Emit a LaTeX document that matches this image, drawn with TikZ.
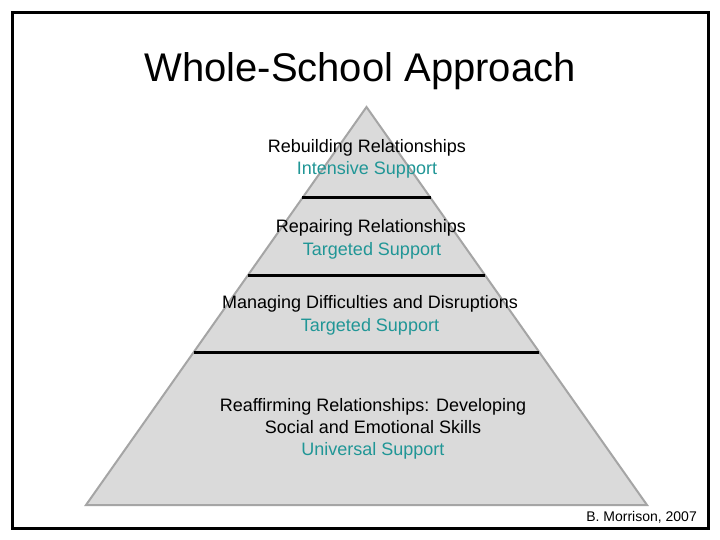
\documentclass[tikz,border=0pt]{standalone}
\usepackage{fontspec}
\setmainfont{Liberation Sans}
\definecolor{teal1}{RGB}{32,150,150}
\definecolor{pyrfill}{RGB}{218,218,218}
\definecolor{pyredge}{RGB}{165,165,165}
\begin{document}
\begin{tikzpicture}[x=1pt,y=-1pt,
  lbl/.style={anchor=base,inner sep=0pt,font=\fontsize{18}{21}\selectfont},
  sub/.style={lbl,text=teal1},
  sep/.style={line width=3pt,black}]
\useasboundingbox (0,0) rectangle (720,540);
\fill[white] (0,0) rectangle (720,540);
\draw[line width=3pt] (12.5,12.5) rectangle (708.5,528.5);
\node[anchor=base,inner sep=0pt,font=\fontsize{40}{46}\selectfont] (title) at (360,82) {Whole-School Approach};
\coordinate (apex) at (366.5,107);
\coordinate (bl) at (86,505);
\coordinate (br) at (647,505);
\draw[fill=pyrfill,draw=pyredge,line width=2pt,line join=miter] (apex) -- (br) -- (bl) -- cycle;
\coordinate (l1a) at (302,198); \coordinate (l1b) at (431,198);
\coordinate (l2a) at (248,275); \coordinate (l2b) at (485,275);
\coordinate (l3a) at (194,352); \coordinate (l3b) at (539,352);
\draw[sep] (l1a) -- (l1b);
\draw[sep] (l2a) -- (l2b);
\draw[sep] (l3a) -- (l3b);
\node[lbl] (t1) at (367,153) {Rebuilding Relationships};
\node[sub] (s1) at (367,175) {Intensive Support};
\node[lbl] (t2) at (371,233) {Repairing Relationships};
\node[sub] (s2) at (372,255) {Targeted Support};
\node[lbl] (t3) at (370,308) {Managing Difficulties and Disruptions};
\node[sub] (s3) at (370,331) {Targeted Support};
\node[lbl] (t4a) at (373,411) {Reaffirming Relationships: Developing};
\node[lbl] (t4b) at (373,433) {Social and Emotional Skills};
\node[sub] (s4) at (373,455) {Universal Support};
\node[anchor=base east,inner sep=0pt,font=\fontsize{14}{16}\selectfont] (cred) at (697,521) {B. Morrison, 2007};
\end{tikzpicture}
\end{document}
